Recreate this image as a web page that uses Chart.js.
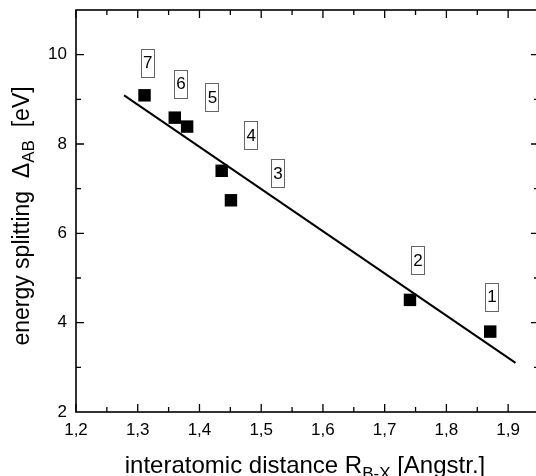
<!DOCTYPE html>
<html>
<head>
<meta charset="utf-8">
<script src="https://cdn.jsdelivr.net/npm/chart.js@4"></script>
<style>
  html, body { margin: 0; background: #fff; overflow: hidden; }
</style>
</head>
<body>
<canvas id="myChart" width="540" height="476"></canvas>
<script>
// measured points (R_B-X in Angstrom, splitting in eV)
let distances = [1.871, 1.741, 1.451, 1.436, 1.380, 1.360, 1.311]
let splitting = [3.80, 4.51, 6.74, 7.40, 8.39, 8.59, 9.09]

// numbered labels next to the points
let labelNames = ["1", "2", "3", "4", "5", "6", "7"]
let labelX = [1.874, 1.754, 1.527, 1.484, 1.421, 1.370, 1.316]
let labelY = [4.58, 5.40, 7.35, 8.20, 9.05, 9.35, 9.82]

// linear fit line
let fitX = [1.278, 1.912]
let fitY = [9.09, 3.10]

let xTicks = [1.2, 1.3, 1.4, 1.5, 1.6, 1.7, 1.8, 1.9]
let yTicks = [2, 4, 6, 8, 10]

const font = "'Liberation Sans', Arial, sans-serif"

// frame, inward ticks, boxed labels and axis titles
const decorations = {
  id: 'decorations',
  afterDatasetsDraw(chart) {
    const ctx = chart.ctx
    const a = chart.chartArea
    const xs = chart.scales.x
    const ys = chart.scales.y
    ctx.save()
    ctx.strokeStyle = '#000'
    ctx.lineWidth = 1.6
    ctx.strokeRect(a.left, a.top, a.right - a.left, a.bottom - a.top)

    ctx.lineWidth = 1.3
    ctx.beginPath()
    for (let k = 0; k <= 15; k++) {
      let v = 1.2 + k * 0.05
      let px = xs.getPixelForValue(v)
      let len = k % 2 == 0 ? 8 : 5
      ctx.moveTo(px, a.bottom); ctx.lineTo(px, a.bottom - len)
      ctx.moveTo(px, a.top); ctx.lineTo(px, a.top + len)
    }
    for (let v = 3; v <= 10; v += 1) {
      let py = ys.getPixelForValue(v)
      let len = v % 2 == 0 ? 8 : 5
      ctx.moveTo(a.left, py); ctx.lineTo(a.left + len, py)
      ctx.moveTo(a.right, py); ctx.lineTo(a.right - len, py)
    }
    ctx.stroke()

    // boxed numbers
    ctx.font = '17px ' + font
    ctx.textAlign = 'center'
    ctx.textBaseline = 'middle'
    for (let i = 0; i < labelNames.length; i++) {
      let px = xs.getPixelForValue(labelX[i])
      let py = ys.getPixelForValue(labelY[i])
      ctx.strokeStyle = '#666'
      ctx.lineWidth = 1
      ctx.strokeRect(Math.round(px - 7) + 0.5, Math.round(py - 14) + 0.5, 13, 28)
      ctx.fillStyle = '#000'
      ctx.fillText(labelNames[i], px, py + 1)
    }

    // x axis title with subscript
    ctx.textAlign = 'left'
    ctx.textBaseline = 'alphabetic'
    let big = '24px ' + font, small = '17px ' + font
    let p1 = 'interatomic distance R', sub = 'B-X', p2 = ' [Angstr.]'
    ctx.font = big
    let w1 = ctx.measureText(p1).width, w3 = ctx.measureText(p2).width
    ctx.font = small
    let w2 = ctx.measureText(sub).width
    let cx = 305
    let x0 = cx - (w1 + w2 + w3) / 2
    let base = 473
    ctx.font = big; ctx.fillText(p1, x0, base)
    ctx.font = small; ctx.fillText(sub, x0 + w1, base + 6)
    ctx.font = big; ctx.fillText(p2, x0 + w1 + w2, base)

    // y axis title with subscript
    big = '23px ' + font
    ctx.translate(29, (a.top + a.bottom) / 2 + 5)
    ctx.rotate(-Math.PI / 2)
    let q1 = 'energy splitting  \u0394', qs = 'AB', q2 = '  [eV]'
    ctx.font = big
    let v1 = ctx.measureText(q1).width, v3 = ctx.measureText(q2).width
    ctx.font = small
    let v2 = ctx.measureText(qs).width
    let y0 = -(v1 + v2 + v3) / 2
    ctx.font = big; ctx.fillText(q1, y0, 0)
    ctx.font = small; ctx.fillText(qs, y0 + v1, 5)
    ctx.font = big; ctx.fillText(q2, y0 + v1 + v2, 0)
    ctx.restore()
  }
}

function graficaEnergia() {
  const data = {
    datasets: [{
      type: 'scatter',
      label: 'measured',
      data: distances.map((d, i) => ({ x: d, y: splitting[i] })),
      pointStyle: 'rect',
      pointRadius: 8.8,
      pointHoverRadius: 8.8,
      backgroundColor: '#000',
      borderColor: '#000',
      borderWidth: 0
    }, {
      type: 'line',
      label: 'fit',
      data: fitX.map((d, i) => ({ x: d, y: fitY[i] })),
      borderColor: '#000',
      borderWidth: 2,
      pointRadius: 0,
      fill: false
    }]
  }

  const config = {
    data: data,
    options: {
      responsive: false,
      animation: false,
      layout: { autoPadding: false, padding: { top: 10, right: 1, left: 0, bottom: 0 } },
      plugins: { legend: { display: false }, tooltip: { enabled: false } },
      scales: {
        x: {
          type: 'linear',
          min: 1.2,
          max: 1.95,
          grid: { display: false, drawTicks: false },
          border: { display: false },
          afterBuildTicks: s => { s.ticks = xTicks.map(v => ({ value: v })) },
          afterFit: s => { s.height = 64; s.paddingLeft = 0; s.paddingRight = 0 },
          ticks: {
            padding: 8,
            color: '#000',
            font: { family: font, size: 17 },
            callback: v => v.toFixed(1).replace('.', ',')
          }
        },
        y: {
          type: 'linear',
          min: 2,
          max: 11,
          grid: { display: false, drawTicks: false },
          border: { display: false },
          afterBuildTicks: s => { s.ticks = yTicks.map(v => ({ value: v })) },
          afterFit: s => { s.width = 76; s.paddingTop = 0; s.paddingBottom = 0 },
          ticks: {
            padding: 9,
            color: '#000',
            font: { family: font, size: 17 }
          }
        }
      }
    },
    plugins: [decorations]
  }

  let myChart = new Chart(document.getElementById('myChart'), config)
}

graficaEnergia()
</script>
</body>
</html>
